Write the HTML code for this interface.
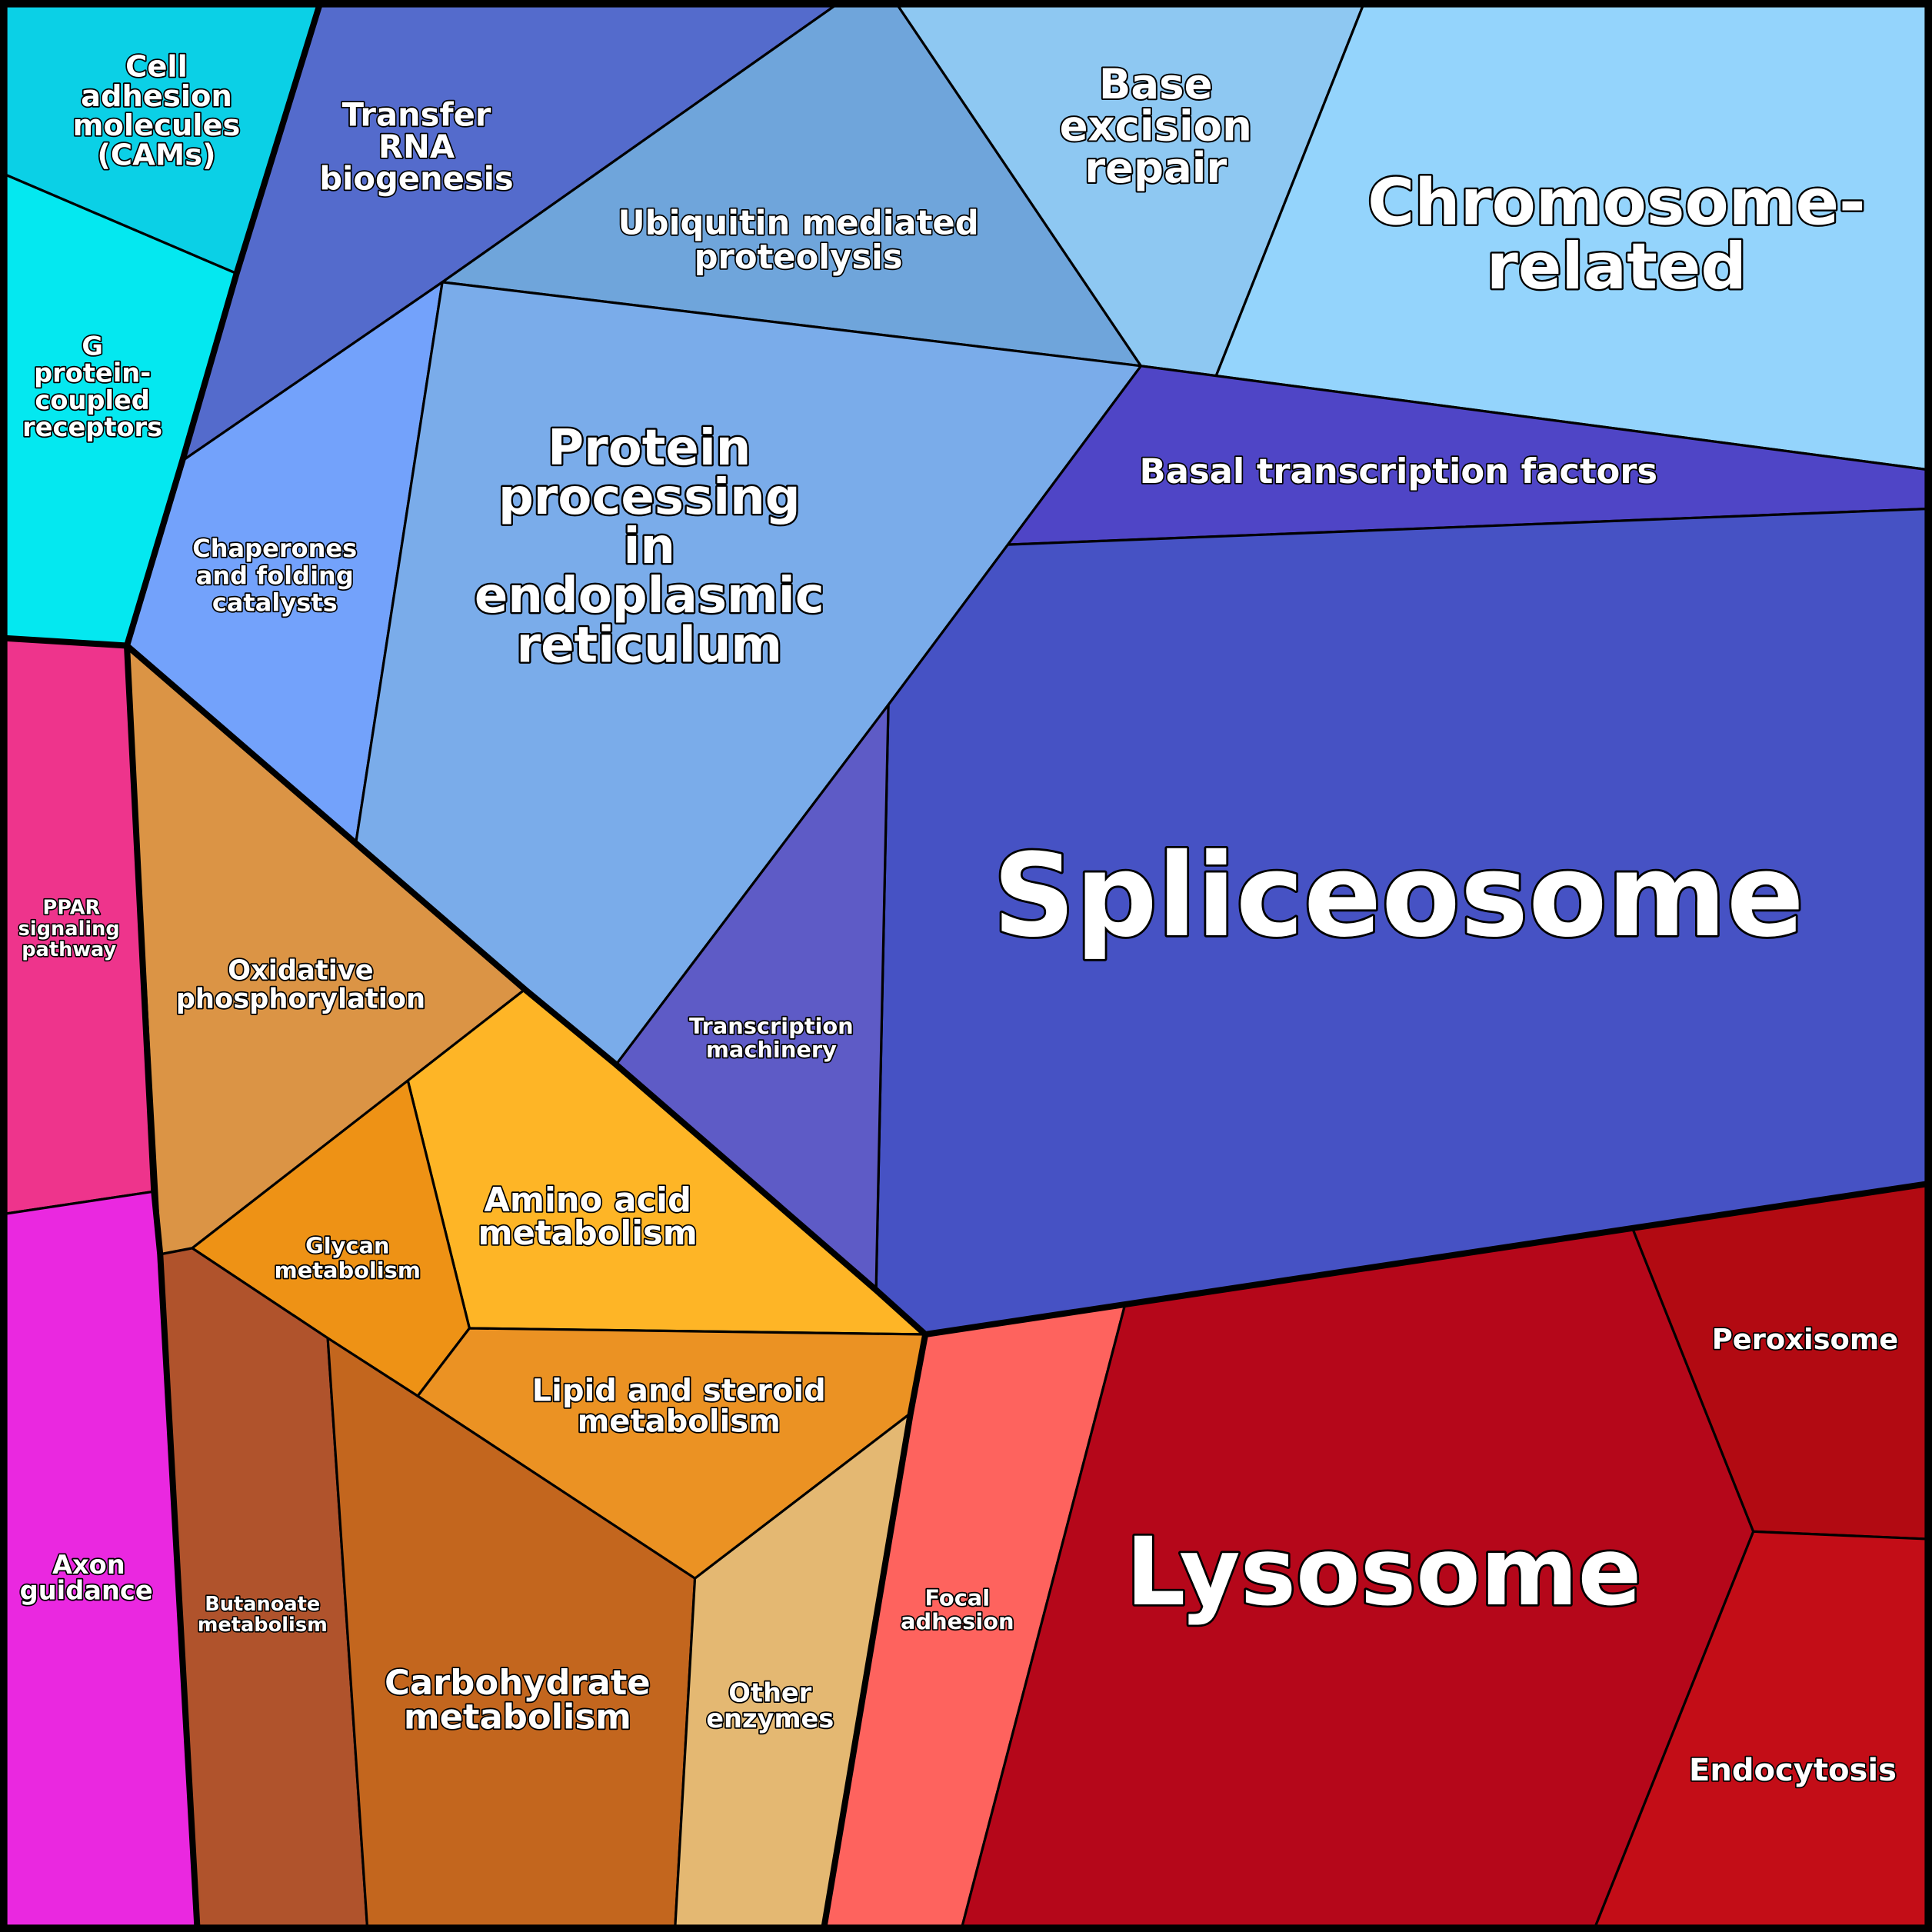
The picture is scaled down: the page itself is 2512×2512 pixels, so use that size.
<!DOCTYPE html>
<html><head><meta charset="utf-8"><style>
html,body{margin:0;padding:0;background:#000;}
svg{display:block}
text{font-family:"DejaVu Sans","Liberation Sans",sans-serif;font-weight:bold;fill:#fff;stroke:#000;paint-order:stroke;text-anchor:middle;stroke-linejoin:round}
polygon{stroke:#000;stroke-width:2;stroke-linejoin:round}
</style></head><body>
<svg width="2512" height="2512" viewBox="0 0 1568 1568" xmlns="http://www.w3.org/2000/svg">
<rect x="0" y="0" width="1568" height="1568" fill="#000"/>
<polygon fill="#0bd0e6" points="5,5 259,5 192,222 5,142"/>
<polygon fill="#04e8f0" points="5,142 192,222 148,374 103,524 5,518"/>
<polygon fill="#546bcc" points="259,5 677,5 359,229 148,374 192,222"/>
<polygon fill="#6fa5db" points="677,5 729,5 926,297 359,229"/>
<polygon fill="#8ec8f2" points="729,5 1106,5 987,305 926,297"/>
<polygon fill="#94d4fc" points="1106,5 1563,5 1563,381 987,305"/>
<polygon fill="#73a2fb" points="148,374 359,229 289,683 103,524"/>
<polygon fill="#7aacea" points="359,229 926,297 818,442 721,572 500,864 426,803 289,683"/>
<polygon fill="#4f45c6" points="926,297 987,305 1563,381 1563,413 818,442"/>
<polygon fill="#4652c4" points="818,442 1563,413 1563,961 751,1083 711,1047 721,572"/>
<polygon fill="#5e5bc6" points="721,572 711,1047 500,864"/>
<polygon fill="#db9445" points="103,524 289,683 426,803 331,877 156,1013 130,1018"/>
<polygon fill="#feb526" points="426,803 500,864 711,1047 751,1083 381,1078 331,877"/>
<polygon fill="#ee9215" points="331,877 381,1078 339,1133 266,1086 156,1013"/>
<polygon fill="#eb9223" points="381,1078 751,1083 739,1147 564,1281 339,1133"/>
<polygon fill="#b0532c" points="130,1018 156,1013 266,1086 298,1563 160,1563"/>
<polygon fill="#c3661e" points="266,1086 339,1133 564,1281 548,1563 298,1563"/>
<polygon fill="#e4b872" points="564,1281 739,1147 669,1563 548,1563"/>
<polygon fill="#ee348c" points="5,518 103,524 125,967 5,985"/>
<polygon fill="#ea28e0" points="5,985 125,967 130,1018 160,1563 5,1563"/>
<polygon fill="#fe635e" points="751,1083 913,1059 781,1563 669,1563"/>
<polygon fill="#b5071a" points="913,1059 1325,997 1423,1243 1295,1563 781,1563"/>
<polygon fill="#b20a12" points="1325,997 1563,961 1563,1249 1423,1243"/>
<polygon fill="#c30d17" points="1423,1243 1563,1249 1563,1563 1295,1563"/>
<g fill="none" stroke="#000" stroke-width="5" stroke-linejoin="round">
<polyline points="5,518 103,524 148,374 192,222 259,5"/>
<polyline points="103,524 426,803 500,864 711,1047 751,1083 1563,961"/>
<polyline points="751,1083 739,1147 669,1563"/>
<polyline points="103,524 125,967 130,1018 160,1563"/>
<rect x="3" y="3" width="1562" height="1562"/>
</g>
<g>
<text font-size="24" stroke-width="2.2"><tspan x="127" y="62">Cell</tspan><tspan x="127" y="86">adhesion</tspan><tspan x="127" y="110">molecules</tspan><tspan x="127" y="134">(CAMs)</tspan></text>
<text font-size="21" stroke-width="2.2"><tspan x="75" y="288">G</tspan><tspan x="75" y="310">protein-</tspan><tspan x="75" y="332">coupled</tspan><tspan x="75" y="354">receptors</tspan></text>
<text font-size="26" stroke-width="2.2"><tspan x="338" y="102">Transfer</tspan><tspan x="338" y="128">RNA</tspan><tspan x="338" y="154">biogenesis</tspan></text>
<text font-size="27" stroke-width="2.2"><tspan x="648" y="190">Ubiquitin mediated</tspan><tspan x="648" y="218">proteolysis</tspan></text>
<text font-size="34" stroke-width="2.5"><tspan x="938" y="80">Base</tspan><tspan x="938" y="114">excision</tspan><tspan x="938" y="148">repair</tspan></text>
<text font-size="52" stroke-width="3"><tspan x="1312" y="182">Chromosome-</tspan><tspan x="1312" y="234">related</tspan></text>
<text font-size="20" stroke-width="2.2"><tspan x="223" y="452">Chaperones</tspan><tspan x="223" y="474">and folding</tspan><tspan x="223" y="496">catalysts</tspan></text>
<text font-size="40" stroke-width="3"><tspan x="527" y="377">Protein</tspan><tspan x="527" y="417">processing</tspan><tspan x="527" y="457">in</tspan><tspan x="527" y="497">endoplasmic</tspan><tspan x="527" y="537">reticulum</tspan></text>
<text font-size="28" stroke-width="2.2" x="1135" y="392">Basal transcription factors</text>
<text font-size="93" stroke-width="3.5" x="1135" y="759">Spliceosome</text>
<text font-size="18" stroke-width="2.2"><tspan x="626" y="839">Transcription</tspan><tspan x="626" y="858">machinery</tspan></text>
<text font-size="22" stroke-width="2.2"><tspan x="244" y="795">Oxidative</tspan><tspan x="244" y="818">phosphorylation</tspan></text>
<text font-size="27" stroke-width="2.2"><tspan x="477" y="983">Amino acid</tspan><tspan x="477" y="1010">metabolism</tspan></text>
<text font-size="18" stroke-width="2.2"><tspan x="282" y="1017">Glycan</tspan><tspan x="282" y="1037">metabolism</tspan></text>
<text font-size="25" stroke-width="2.2"><tspan x="551" y="1137">Lipid and steroid</tspan><tspan x="551" y="1162">metabolism</tspan></text>
<text font-size="16" stroke-width="2"><tspan x="213" y="1307">Butanoate</tspan><tspan x="213" y="1324">metabolism</tspan></text>
<text font-size="28" stroke-width="2.2"><tspan x="420" y="1375">Carbohydrate</tspan><tspan x="420" y="1403">metabolism</tspan></text>
<text font-size="21" stroke-width="2.2"><tspan x="625" y="1381">Other</tspan><tspan x="625" y="1402">enzymes</tspan></text>
<text font-size="16" stroke-width="2"><tspan x="58" y="742">PPAR</tspan><tspan x="56" y="759">signaling</tspan><tspan x="56" y="776">pathway</tspan></text>
<text font-size="21" stroke-width="2.2"><tspan x="72" y="1277">Axon</tspan><tspan x="70" y="1298">guidance</tspan></text>
<text font-size="18" stroke-width="2.2"><tspan x="777" y="1303">Focal</tspan><tspan x="777" y="1322">adhesion</tspan></text>
<text font-size="76" stroke-width="3.5" x="1123" y="1302">Lysosome</text>
<text font-size="23" stroke-width="2.2" x="1465" y="1095">Peroxisome</text>
<text font-size="25" stroke-width="2.2" x="1455" y="1445">Endocytosis</text>
</g>
</svg>
</body></html>
